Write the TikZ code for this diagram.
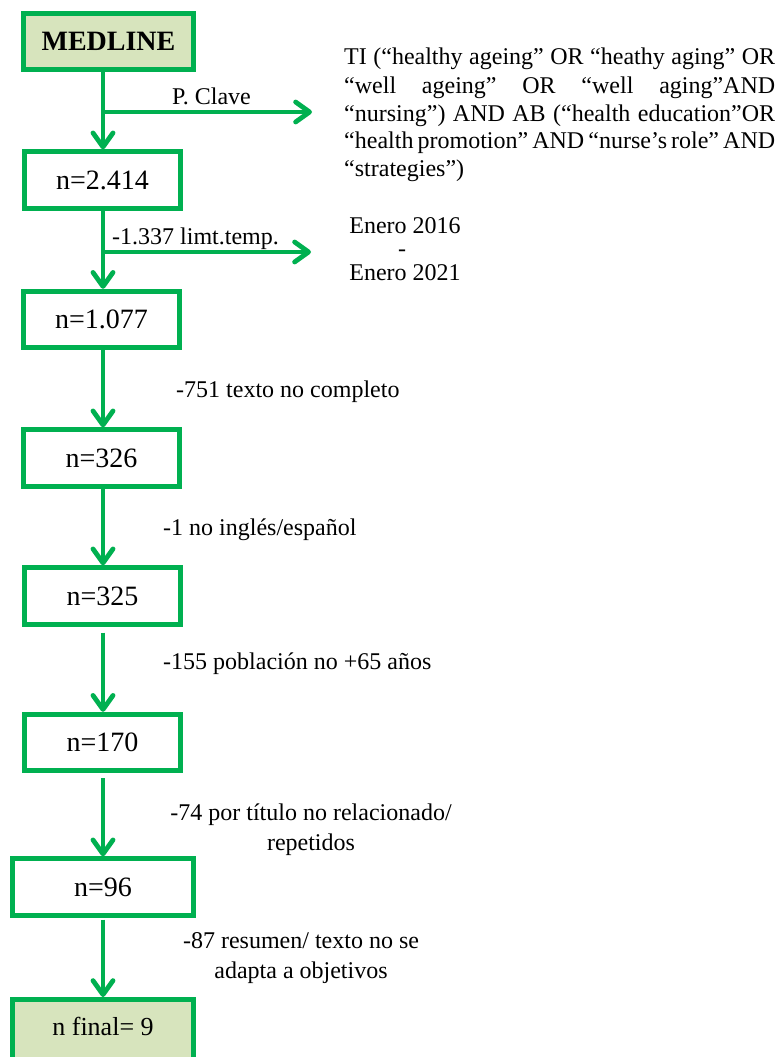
\documentclass[tikz,border=0pt]{standalone}
\usepackage{fontspec}
\setmainfont{Liberation Serif}
\usetikzlibrary{arrows.meta}
\definecolor{mgreen}{HTML}{00B050}
\definecolor{mfill}{HTML}{D7E4BD}
\begin{document}
\begin{tikzpicture}[x=1pt,y=-1pt,
 box/.style={draw=mgreen,line width=4.8pt,fill=white,minimum width=156.2pt,minimum height=56.5pt,inner sep=0pt,font=\fontsize{28}{32}\selectfont},
 widebox/.style={box,minimum width=181.2pt},
 hl/.style={fill=mfill},
 arr/.style={draw=mgreen,line width=4.8pt,-{Straight Barb[length=14pt,width=20pt,round]}},
 lbl/.style={inner sep=0pt,font=\fontsize{24}{28}\selectfont},
]
\clip (0,0) rectangle (779,1057);
\fill[white] (0,0) rectangle (779,1057);
\coordinate (spine) at (103,0);
% boxes
\node[box,hl,minimum width=170.2pt,font=\fontsize{28}{32}\selectfont\bfseries] (medline) at (108.5,41.5) {MEDLINE};
\node[box] (b1) at (102.5,180) {n=2.414};
\node[box] (b2) at (101.5,319.5) {n=1.077};
\node[box] (b3) at (101.5,458) {n=326};
\node[box] (b4) at (102.5,596) {n=325};
\node[box] (b5) at (102.5,742.5) {n=170};
\node[widebox] (b6) at (103,887) {n=96};
\node[widebox,hl,font=\fontsize{26}{30}\selectfont,minimum height=62pt,text height=18pt,text depth=8.8pt] (b7) at (103,1030.4) {n final= 9};
% connectors
\coordinate (t1) at (312,112);
\coordinate (t2) at (311,252);
\draw[arr] (medline.south -| spine) -- (b1.north -| spine);
\draw[arr] (t1 -| spine) -- (t1);
\draw[arr] (b1.south -| spine) -- (b2.north -| spine);
\draw[arr] (t2 -| spine) -- (t2);
\draw[arr] (b2.south -| spine) -- (b3.north -| spine);
\draw[arr] (b3.south -| spine) -- (b4.north -| spine);
\draw[arr,shorten <=6pt] (b4.south -| spine) -- (b5.north -| spine);
\draw[arr,shorten <=5pt] (b5.south -| spine) -- (b6.north -| spine);
\draw[arr,shorten <=2pt] (b6.south -| spine) -- (b7.north -| spine);
% labels
\node[lbl,anchor=base west] (pclave) at (172,104) {P. Clave};
\node[lbl,anchor=base west] (limt) at (112,244) {-1.337 limt.temp.};
\node[lbl,anchor=base west] (q1) at (344,65) {\makebox[431pt][s]{TI (“healthy ageing” OR “heathy aging” OR}};
\node[lbl,anchor=base west] (q2) at (344,93) {\makebox[431pt][s]{“well ageing” OR “well aging”AND}};
\node[lbl,anchor=base west] (q3) at (344,121) {\makebox[431pt][s]{“nursing”) AND AB (“health education”OR}};
\node[lbl,anchor=base west] (q4) at (344,148.5) {\makebox[431pt][s]{“health promotion” AND “nurse’s role” AND}};
\node[lbl,anchor=base west] (q5) at (344,176.5) {“strategies”)};
\node[lbl,anchor=base] (e1) at (405,233) {Enero 2016};
\node[lbl,anchor=base] (e2) at (402,256.5) {-};
\node[lbl,anchor=base] (e3) at (405,280) {Enero 2021};
\node[lbl,anchor=base west] (l1) at (176,397) {-751 texto no completo};
\node[lbl,anchor=base west] (l2) at (163,535) {-1 no inglés/español};
\node[lbl,anchor=base west] (l3) at (163,669) {-155 población no +65 años};
\node[lbl,anchor=base] (l4a) at (311,820) {-74 por título no relacionado/};
\node[lbl,anchor=base] (l4b) at (311,850.5) {repetidos};
\node[lbl,anchor=base] (l5a) at (301,948) {-87 resumen/ texto no se};
\node[lbl,anchor=base] (l5b) at (301,978) {adapta a objetivos};
\end{tikzpicture}
\end{document}
